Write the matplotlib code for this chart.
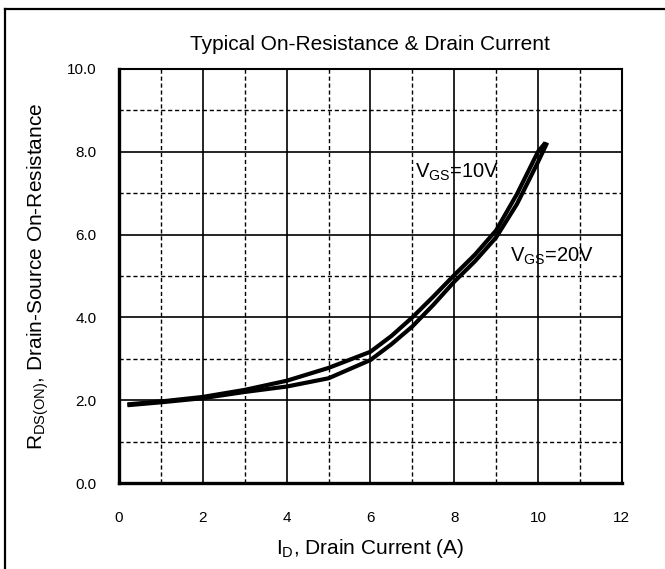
import matplotlib
matplotlib.use("Agg")
import matplotlib.pyplot as plt
from matplotlib.lines import Line2D
import numpy as np

plt.rcParams['font.family'] = ['Liberation Sans', 'DejaVu Sans']
plt.rcParams['mathtext.default'] = 'regular'

# data
id_10v = [0.2, 1, 2, 3, 4, 5, 6, 6.5, 7, 7.5, 8, 8.5, 9, 9.5, 10, 10.18]
rds_10v = [1.90, 1.97, 2.08, 2.25, 2.47, 2.78, 3.17, 3.55, 4.0, 4.5, 5.02, 5.52,
           6.1, 6.98, 8.0, 8.22]
id_20v = [0.2, 1, 2, 3, 4, 5, 6, 6.5, 7, 7.5, 8, 8.5, 9, 9.5, 10, 10.22]
rds_20v = [1.88, 1.95, 2.05, 2.2, 2.33, 2.53, 2.97, 3.35, 3.78, 4.3, 4.86, 5.36,
           5.93, 6.74, 7.75, 8.22]

x_ticks = [0, 2, 4, 6, 8, 10, 12]
y_ticks = [0, 2, 4, 6, 8, 10]

fig = plt.figure(figsize=(6.65, 5.69), dpi=100)
ax = fig.add_axes([0.179, 0.151, 0.756, 0.728])

ax.plot(id_10v, rds_10v, color='black', lw=3.0, solid_capstyle='butt', zorder=3)
ax.plot(id_20v, rds_20v, color='black', lw=3.0, solid_capstyle='butt', zorder=3)

ax.set_xlim(0, 12)
ax.set_ylim(0, 10)
ax.set_xticks(x_ticks)
ax.set_xticklabels([str(v) for v in x_ticks])
ax.set_yticks(y_ticks)
ax.set_yticklabels([f"{v:.1f}" for v in y_ticks])
ax.set_xticks(np.arange(1, 12, 2), minor=True)
ax.set_yticks(np.arange(1, 10, 2), minor=True)
ax.tick_params(which='both', length=0, labelsize=11)
ax.tick_params(axis='x', pad=20)
ax.tick_params(axis='y', pad=16)

ax.grid(which='major', color='black', lw=1.2, ls='-', zorder=1)
ax.grid(which='minor', color='black', lw=1.0, ls=(0, (3, 2)), zorder=1)

for side in ['left', 'bottom']:
    ax.spines[side].set_linewidth(2.4)
for side in ['top', 'right']:
    ax.spines[side].set_linewidth(1.5)

ax.text(7.07, 7.5, r'$V_{GS}$=10V', fontsize=14.5, va='center', ha='left')
ax.text(9.33, 5.48, r'$V_{GS}$=20V', fontsize=14.5, va='center', ha='left')

ax.text(0.5, 1.058, 'Typical On-Resistance & Drain Current', fontsize=15,
        ha='center', va='center', transform=ax.transAxes)
ax.set_xlabel(r'$I_D$, Drain Current (A)', fontsize=15)
ax.set_ylabel(r'$R_{DS(ON)}$, Drain-Source On-Resistance', fontsize=15)
ax.xaxis.set_label_coords(0.5, -0.13)
ax.yaxis.set_label_coords(-0.136, 0.5)

# frame lines on left and top of the picture
fig.add_artist(Line2D([5 / 665, 5 / 665], [0, 1 - 9 / 569], color='black', lw=1.6,
                      transform=fig.transFigure))
fig.add_artist(Line2D([5 / 665, 1], [1 - 9 / 569, 1 - 9 / 569], color='black', lw=1.6,
                      transform=fig.transFigure))

fig.savefig('out.png', dpi=100)
